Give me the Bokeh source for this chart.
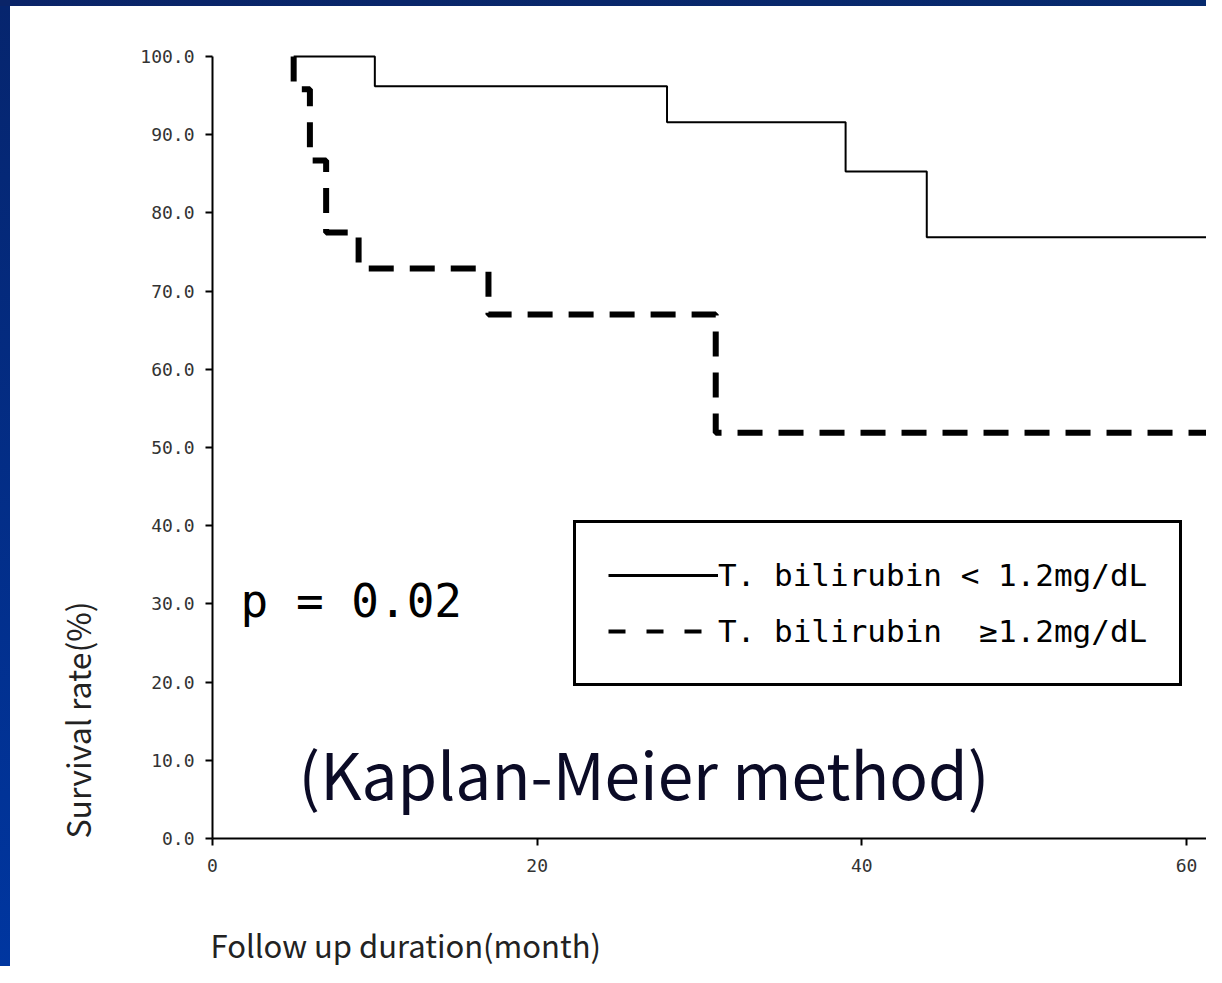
import math
from bokeh.plotting import figure
from bokeh.layouts import column, row
from bokeh.models import (Range1d, Label, Legend, LegendItem, FixedTicker,
                          PrintfTickFormatter, Title, Spacer)
from bokeh.embed import file_html
from bokeh.resources import INLINE

# ---- data (months, survival %) ----
low_months = [5, 10, 28, 39, 44, 62]
low_survival = [100.0, 96.2, 91.6, 85.3, 76.9, 76.9]
high_months = [5, 5, 6, 7, 9, 17, 31, 62]
high_survival = [100.0, 95.8, 86.7, 77.5, 72.9, 67.0, 51.9, 51.9]

x_ticks = [0, 20, 40, 60]
y_ticks = [0, 10, 20, 30, 40, 50, 60, 70, 80, 90, 100]

label_low = "T. bilirubin < 1.2mg/dL"
label_high = "T. bilirubin  \u22651.2mg/dL"

# ---- layout helpers (picture pixel -> data) ----
PXX = 974 / 60.0
PXY = 782 / 100.0
def dx(px):
    return (px - 212) / PXX
def dy(py):
    return (838 - py) / PXY

TOTAL_W, TOTAL_H = 1206, 966
TOP_BAR, LEFT_BAR = 6, 10
W, H = TOTAL_W - LEFT_BAR, TOTAL_H - TOP_BAR

p = figure(width=W, height=H, output_backend="svg", toolbar_location=None,
           x_range=Range1d(0, dx(TOTAL_W)), y_range=Range1d(0, dy(40)),
           min_border_left=212 - LEFT_BAR, min_border_right=0,
           min_border_top=40 - TOP_BAR, min_border_bottom=TOTAL_H - 838,
           background_fill_color="white", border_fill_color="white")
p.outline_line_color = None
p.grid.visible = False

p.step(low_months, low_survival, mode="after", line_color="black", line_width=2)
p.step(high_months, high_survival, mode="after", line_color="black", line_width=6,
       line_dash="25 16", line_cap="butt")

for ax in (p.xaxis[0], p.yaxis[0]):
    ax.axis_line_width = 2
    ax.axis_line_color = "black"
    ax.major_tick_line_width = 2
    ax.major_tick_line_color = "black"
    ax.major_tick_out = 7
    ax.major_tick_in = 0
    ax.minor_tick_line_color = None
    ax.major_label_text_font = "DejaVu Sans Mono"
    ax.major_label_text_font_size = "18px"
    ax.major_label_text_color = "#333333"

p.xaxis[0].ticker = FixedTicker(ticks=x_ticks)
p.xaxis[0].major_label_standoff = 13
p.yaxis[0].ticker = FixedTicker(ticks=y_ticks)
p.yaxis[0].formatter = PrintfTickFormatter(format="%.1f")
p.yaxis[0].bounds = (0, 100)
p.yaxis[0].major_label_standoff = 11

# axis titles
p.add_layout(Title(text="Survival rate(%)", align="left", offset=0, standoff=76,
                   vertical_align="bottom",
                   text_font="Noto Sans CJK KR", text_font_size="32px",
                   text_font_style="normal", text_color="#222222"), "left")
p.add_layout(Title(text="\nFollow up duration(month)", align="left", offset=-2, standoff=0,
                   vertical_align="bottom", text_line_height=1.0,
                   text_font="Noto Sans CJK KR", text_font_size="31px",
                   text_font_style="normal", text_color="#222222"), "below")

# legend
nan = float("nan")
leg_solid = p.line(x=[nan, nan], y=[nan, nan], line_color="black", line_width=3)
leg_dash = p.line(x=[nan, nan], y=[nan, nan], line_color="black", line_width=4,
                  line_dash="17 21", line_cap="butt")
legend = Legend(items=[LegendItem(label=label_low, renderers=[leg_solid]),
                       LegendItem(label=label_high, renderers=[leg_dash])],
                location=(361, 152), margin=0, padding=32, spacing=16,
                glyph_width=110, glyph_height=40, label_height=40, label_standoff=0,
                label_text_font="DejaVu Sans Mono", label_text_font_size="31px",
                label_text_color="black",
                border_line_color="black", border_line_width=3, border_line_alpha=1.0,
                background_fill_color="white", background_fill_alpha=1.0)
p.add_layout(legend)

p.add_layout(Label(x=dx(240), y=dy(600), text="p = 0.02", text_font="DejaVu Sans Mono",
                   text_font_size="46px", text_color="black", text_baseline="alphabetic"))
p.add_layout(Label(x=dx(298), y=dy(771), text="(Kaplan-Meier method)",
                   text_font="Noto Sans CJK KR", text_font_size="64px", text_color="#0b0b26",
                   text_baseline="alphabetic"))

top_bar = Spacer(width=TOTAL_W, height=TOP_BAR,
                 styles={"background": "linear-gradient(to right, #0a2468, #072a6e)"})
left_bar = Spacer(width=LEFT_BAR, height=H,
                  styles={"background": "linear-gradient(to bottom, #06256e, #0036a0)"})
layout = column(top_bar, row(left_bar, p, spacing=0), spacing=0)

open("out.html", "w").write(file_html(layout, INLINE))
